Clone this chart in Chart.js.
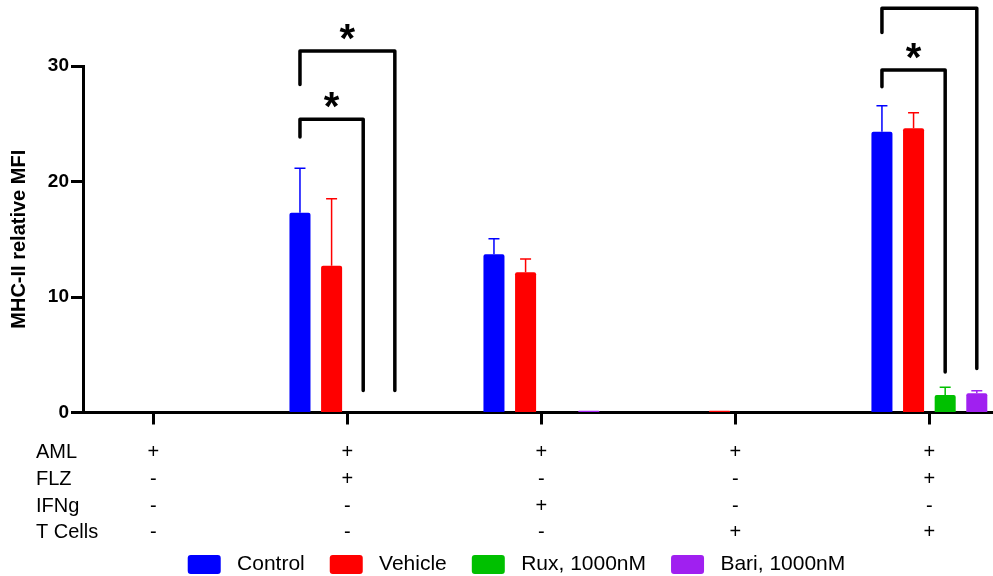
<!DOCTYPE html>
<html>
<head>
<meta charset="utf-8">
<title>MHC-II relative MFI</title>
<script src="https://cdn.jsdelivr.net/npm/chart.js@4.4.0/dist/chart.umd.min.js"></script>
<style>
  html, body { margin: 0; padding: 0; background: #fff; }
  #wrap { width: 993px; height: 576px; position: relative; }
</style>
</head>
<body>
<div id="wrap"><canvas id="graficoMhc"></canvas></div>
<script>
// conditions (one column per group) read as +/- rows under the axis
const rowLabels = ['AML', 'FLZ', 'IFNg', 'T Cells'];
const aml    = ['+', '+', '+', '+', '+'];
const flz    = ['-', '+', '-', '-', '+'];
const ifng   = ['-', '-', '+', '-', '-'];
const tCells = ['-', '-', '-', '+', '+'];

const seriesNames = ['Control', 'Vehicle', 'Rux, 1000nM', 'Bari, 1000nM'];
const control    = [0, 17.3, 13.7, 0, 24.3];
const controlErr = [0, 3.85, 1.35, 0, 2.25];
const vehicle    = [0, 12.7, 12.15, 0.15, 24.6];
const vehicleErr = [0, 5.8, 1.15, 0, 1.35];
const rux        = [0, 0, 0, 0, 1.52];
const ruxErr     = [0, 0, 0, 0, 0.66];
const bari       = [0, 0, 0.15, 0, 1.66];
const bariErr    = [0, 0, 0, 0, 0.23];

const yTicks = [0, 10, 20, 30];

// significance brackets: [group, from series, to series, bar height, left end, right end, mark]
const brackets = [
    [1, 0, 2, 25.4, 23.85, 1.9, '*'],
    [1, 0, 3, 31.3, 28.4, 1.9, '*'],
    [4, 0, 2, 29.65, 28.2, 3.5, '*'],
    [4, 0, 3, 35.0, 32.9, 3.8, '*']
];

const FONT = '"Liberation Sans", Arial, sans-serif';
const cores = ['#0000FF', '#FF0000', '#00C000', '#A020F0'];

const errorBars = {
    id: 'errorBars',
    afterDatasetsDraw(chart) {
        const ctx = chart.ctx;
        const y = chart.scales.y;
        chart.data.datasets.forEach((ds, i) => {
            const meta = chart.getDatasetMeta(i);
            meta.data.forEach((bar, j) => {
                const err = ds.errors[j];
                if (!err) return;
                const top = y.getPixelForValue(ds.data[j].y + err);
                ctx.save();
                ctx.strokeStyle = ds.backgroundColor;
                ctx.lineWidth = 1.5;
                ctx.beginPath();
                ctx.moveTo(bar.x, bar.y);
                ctx.lineTo(bar.x, top);
                ctx.moveTo(bar.x - 5.5, top);
                ctx.lineTo(bar.x + 5.5, top);
                ctx.stroke();
                ctx.restore();
            });
        });
    }
};

const bracketsPlugin = {
    id: 'brackets',
    afterDraw(chart) {
        const ctx = chart.ctx;
        const y = chart.scales.y;
        ctx.save();
        ctx.strokeStyle = '#000';
        ctx.lineWidth = 3.5;
        ctx.lineJoin = 'round';
        ctx.lineCap = 'round';
        ctx.font = 'bold 40px ' + FONT;
        ctx.fillStyle = '#000';
        ctx.textAlign = 'center';
        ctx.textBaseline = 'alphabetic';
        brackets.forEach(([g, a, b, h, l, r, mark]) => {
            const x1 = chart.getDatasetMeta(a).data[g].x;
            const x2 = chart.getDatasetMeta(b).data[g].x;
            const yh = y.getPixelForValue(h);
            ctx.beginPath();
            ctx.moveTo(x1, y.getPixelForValue(l));
            ctx.lineTo(x1, yh);
            ctx.lineTo(x2, yh);
            ctx.lineTo(x2, y.getPixelForValue(r));
            ctx.stroke();
            const m = ctx.measureText(mark);
            const centro = yh - 18.7;
            const base = centro - (m.actualBoundingBoxDescent - m.actualBoundingBoxAscent) / 2;
            ctx.fillText(mark, (x1 + x2) / 2, base);
        });
        ctx.restore();
    }
};

const rowLabelsPlugin = {
    id: 'rowLabels',
    afterLayout(chart) {
        // the +/- rows run past the axis box, so don't let them get clipped
        chart.scales.x.bottom = chart.height;
    },
    afterDraw(chart) {
        const ctx = chart.ctx;
        const x = chart.scales.x;
        const opts = x.options;
        const lh = opts.ticks.font.size * opts.ticks.font.lineHeight;
        const first = x.top + opts.grid.tickLength + opts.ticks.padding + lh / 2;
        ctx.save();
        ctx.font = opts.ticks.font.size + 'px ' + FONT;
        ctx.fillStyle = '#000';
        ctx.textAlign = 'left';
        ctx.textBaseline = 'middle';
        rowLabels.forEach((t, i) => ctx.fillText(t, 36, first + i * lh));
        ctx.restore();
    }
};

function montarGrafico() {
    Chart.defaults.color = '#000';
    Chart.defaults.font.family = FONT;

    const valores = [control, vehicle, rux, bari];
    const erros = [controlErr, vehicleErr, ruxErr, bariErr];
    const linhas = [aml, flz, ifng, tCells];

    const ctx = document.getElementById('graficoMhc').getContext('2d');
    new Chart(ctx, {
        type: 'bar',
        data: {
            datasets: seriesNames.map((nome, i) => ({
                label: nome,
                data: valores[i].map((v, j) => ({ x: j, y: v })),
                errors: erros[i],
                backgroundColor: cores[i],
                borderWidth: 0,
                borderRadius: 2,
                categoryPercentage: 0.652,
                barPercentage: 0.665
            }))
        },
        options: {
            responsive: true,
            maintainAspectRatio: false,
            animation: false,
            layout: { padding: { top: 66, left: 40, right: 0, bottom: -9 } },
            plugins: {
                tooltip: { enabled: false },
                legend: {
                    position: 'bottom',
                    labels: {
                        boxWidth: 33,
                        boxHeight: 19,
                        padding: 25,
                        useBorderRadius: true,
                        borderRadius: 3,
                        font: { size: 21 },
                        generateLabels(chart) {
                            return Chart.defaults.plugins.legend.labels.generateLabels(chart)
                                .map(item => ({ ...item, text: ' ' + item.text, lineWidth: 0 }));
                        }
                    }
                }
            },
            scales: {
                x: {
                    type: 'linear',
                    offset: false,
                    min: -0.363,
                    max: 4.328,
                    afterBuildTicks(scale) {
                        scale.ticks = aml.map((_, i) => ({ value: i }));
                    },
                    afterFit(scale) { scale.height = 116.5; },
                    border: { display: true, color: '#000', width: 3 },
                    grid: { offset: false, drawOnChartArea: false, drawTicks: true, tickLength: 12, tickWidth: 3, color: '#000' },
                    ticks: {
                        padding: 15,
                        maxRotation: 0,
                        autoSkip: false,
                        font: { size: 20, lineHeight: 1.335 },
                        callback: (value) => linhas.map(l => l[value])
                    }
                },
                y: {
                    min: 0,
                    max: 30,
                    afterBuildTicks(scale) {
                        scale.ticks = yTicks.map(v => ({ value: v }));
                    },
                    afterFit(scale) { scale.width = 43; },
                    border: { display: true, color: '#000', width: 3 },
                    grid: { drawOnChartArea: false, drawTicks: true, tickLength: 12, tickWidth: 3, color: '#000' },
                    ticks: { padding: 2, font: { size: 19, weight: 'bold' } },
                    title: {
                        display: true,
                        text: 'MHC-II relative MFI',
                        font: { size: 20, weight: 'bold' },
                        padding: { top: -33, bottom: 0 }
                    }
                }
            }
        },
        plugins: [errorBars, bracketsPlugin, rowLabelsPlugin]
    });
}

document.addEventListener('DOMContentLoaded', montarGrafico);
</script>
</body>
</html>
